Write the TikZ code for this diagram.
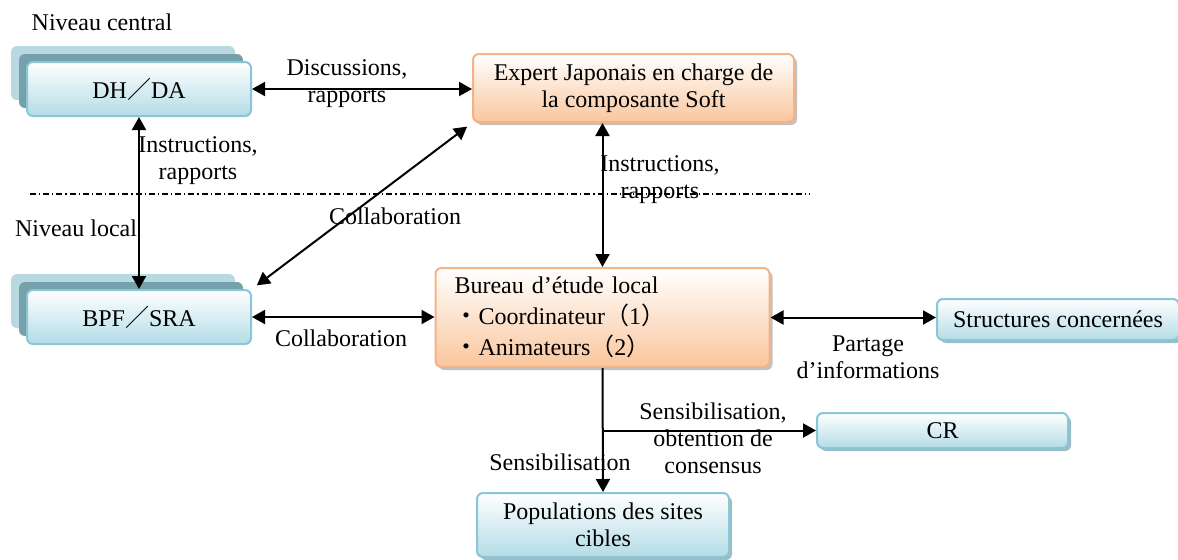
\documentclass[tikz,border=0pt]{standalone}
\usepackage{fontspec}
\setmainfont{Liberation Serif}
\newfontfamily\cjk{Noto Sans CJK JP}
\usepackage{tikz}
\usetikzlibrary{arrows.meta,shadows,calc}

\definecolor{bluebot}{HTML}{B3DCE7}
\definecolor{blueline}{HTML}{8AC6D5}
\definecolor{stackback}{HTML}{B8D9E1}
\definecolor{stackmid}{HTML}{74A1AB}
\definecolor{orangebot}{HTML}{FAC69D}
\definecolor{orangeline}{HTML}{F4B384}

\tikzset{
  box/.style={rectangle,rounded corners=3pt,line width=1pt,align=center},
  bluebox/.style={box,draw=blueline,top color=white,bottom color=bluebot},
  orangebox/.style={box,draw=orangeline,top color=white,bottom color=orangebot},
  shadowed/.style={drop shadow={shadow xshift=1.5pt,shadow yshift=-1.5pt,fill=#1,opacity=0.7}},
  shadowed/.default=stackmid,
  stacked/.style={general shadow={shadow xshift=-8pt,shadow yshift=8pt,fill=stackback},
                  general shadow={shadow xshift=-4pt,shadow yshift=4pt,fill=stackmid}},
  lbl/.style={align=center,inner sep=0pt}
}

\begin{document}
\begin{tikzpicture}[x=0.5pt,y=-0.5pt,<->,>={Triangle[length=6.5pt,width=7pt]},line width=1pt,
    font=\fontsize{12}{13.5}\selectfont]
  \useasboundingbox (0,0) rectangle (1178,559);

  \node [lbl]                                                          (central) at (102,22)   {Niveau central};
  \node [lbl]                                                          (local)   at (76,228)   {Niveau local};

  \node [bluebox,stacked,minimum width=112pt,minimum height=27pt]      (dh)      at (139,89)   {DH{\cjk ／}DA};
  \node [bluebox,stacked,minimum width=112pt,minimum height=27pt]      (bpf)     at (139,317)  {BPF{\cjk ／}SRA};
  \node [orangebox,shadowed=gray!70,minimum width=160.5pt,minimum height=34pt] (expert)  at (633.5,88) {Expert Japonais en charge de\\la composante Soft};
  \node [orangebox,shadowed=gray!70,minimum width=167pt,minimum height=49.5pt,text width=148pt,align=left,
         font=\fontsize{12}{15.5}\selectfont]                          (bureau)  at (602.5,317.5)
        {Bureau d’étude local\\{\cjk ・}Coordinateur{\cjk （}1{\cjk ）}\\{\cjk ・}Animateurs{\cjk （}2{\cjk ）}};
  \node [bluebox,shadowed,minimum width=121pt,minimum height=20.5pt]   (struct)  at (1058,319.5) {Structures concernées};
  \node [bluebox,shadowed,minimum width=125.5pt,minimum height=17.5pt] (cr)      at (942.5,430.5) {CR};
  \node [bluebox,shadowed,minimum width=126pt,minimum height=32pt]     (pop)     at (603,525)  {Populations des sites\\cibles};

  \node [lbl] (disc)    at (347,84)  {Discussions,\\rapports};
  \node [lbl] (instrA)  at (198,161) {Instructions,\\rapports};
  \node [lbl] (instrB)  at (660,180) {Instructions,\\rapports};
  \node [lbl] (collabA) at (395,216) {Collaboration};
  \node [lbl] (collabB) at (341,338) {Collaboration};
  \node [lbl] (partage) at (868,357) {Partage\\d’informations};
  \node [lbl] (sensiA)  at (713,438) {Sensibilisation,\\obtention de\\consensus};
  \node [lbl] (sensiB)  at (560,462) {Sensibilisation};

  \draw [-,line width=0.6pt,dash pattern=on 3pt off 1.5pt on 0.6pt off 1.5pt] (30,194) -- (810,194);

  \path (dh.east) edge (dh.east -| expert.west)
        (dh.south) edge (bpf.north)
        (bpf.north east) edge [shorten <=3pt,shorten >=3pt] (expert.south west)
        (bureau.north |- expert.south) edge (bureau.north)
        (bpf.east) edge (bpf.east -| bureau.west)
        (bureau.east) edge (bureau.east -| struct.west);
  \path [->] (bureau.south) edge (pop.north)
        (bureau.south |- cr.west) edge (cr.west);
\end{tikzpicture}
\end{document}
